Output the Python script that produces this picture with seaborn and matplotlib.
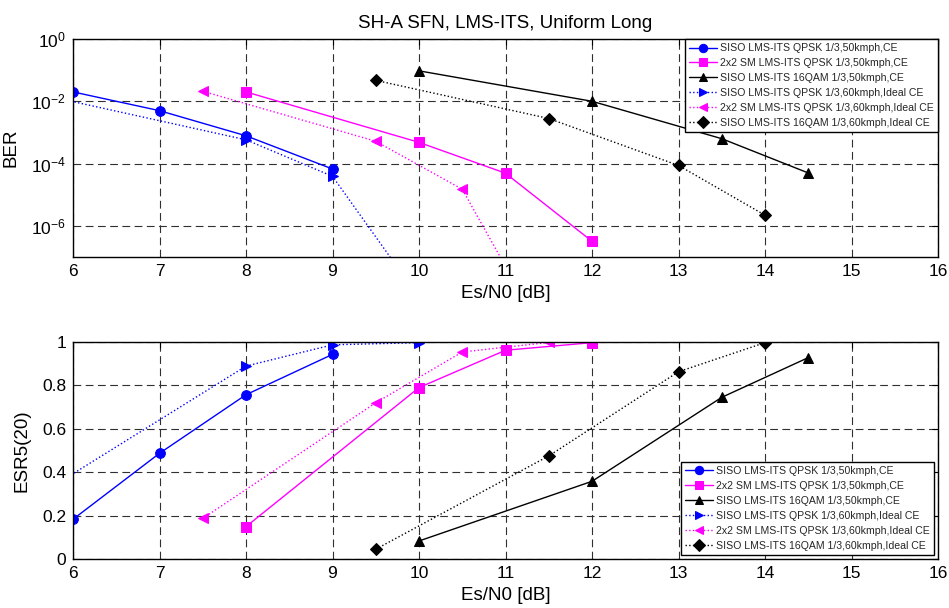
import numpy as np
import pandas as pd
import matplotlib
matplotlib.use("Agg")
import matplotlib.pyplot as plt
import seaborn as sns

# ---------------- data ----------------
labels = [
    "SISO LMS-ITS QPSK 1/3,50kmph,CE",
    "2x2 SM LMS-ITS QPSK 1/3,50kmph,CE",
    "SISO LMS-ITS 16QAM 1/3,50kmph,CE",
    "SISO LMS-ITS QPSK 1/3,60kmph,Ideal CE",
    "2x2 SM LMS-ITS QPSK 1/3,60kmph,Ideal CE",
    "SISO LMS-ITS 16QAM 1/3,60kmph,Ideal CE",
]

# BER (top)
ber_x_siso_ce = [6, 7, 8, 9]
ber_y_siso_ce = [2.0e-2, 5.0e-3, 7.8e-4, 6.7e-5]
ber_x_sm_ce = [8, 10, 11, 12]
ber_y_sm_ce = [2.0e-2, 4.8e-4, 4.9e-5, 3.2e-7]
ber_x_16_ce = [10, 12, 13.5, 14.5]
ber_y_16_ce = [9.5e-2, 1.0e-2, 6.3e-4, 5.0e-5]
ber_x_siso_id = [5, 8, 9, 10]
ber_y_siso_id = [4.0e-2, 5.8e-4, 3.9e-5, 5.0e-9]
ber_x_sm_id = [7.5, 9.5, 10.5, 11]
ber_y_sm_id = [2.1e-2, 5.2e-4, 1.5e-5, 5.0e-8]
ber_x_16_id = [9.5, 11.5, 13, 14]
ber_y_16_id = [4.7e-2, 2.8e-3, 8.7e-5, 2.2e-6]

# ESR5(20) (bottom)
esr_x_siso_ce = [6, 7, 8, 9]
esr_y_siso_ce = [0.183, 0.487, 0.757, 0.943]
esr_x_sm_ce = [8, 10, 11, 12]
esr_y_sm_ce = [0.149, 0.790, 0.962, 0.997]
esr_x_16_ce = [10, 12, 13.5, 14.5]
esr_y_16_ce = [0.083, 0.358, 0.745, 0.928]
esr_x_siso_id = [5, 8, 9, 10]
esr_y_siso_id = [0.145, 0.889, 0.987, 0.997]
esr_x_sm_id = [7.5, 9.5, 10.5, 11.5]
esr_y_sm_id = [0.187, 0.720, 0.954, 0.998]
esr_x_16_id = [9.5, 11.5, 13, 14]
esr_y_16_id = [0.045, 0.475, 0.863, 0.997]

x_ticks = [6, 7, 8, 9, 10, 11, 12, 13, 14, 15, 16]

# ---------------- style ----------------
sns.set_theme(style="white")
plt.rcParams["font.family"] = ["Liberation Sans", "DejaVu Sans"]

colors = ["#0000ff", "#ff00ff", "#000000", "#0000ff", "#ff00ff", "#000000"]
markers = ["o", "s", "^", ">", "<", "D"]
lstyles = ["-", "-", "-", ":", ":", ":"]
msizes = [7, 6.5, 7, 7, 7, 6]

ber_sets = [(ber_x_siso_ce, ber_y_siso_ce), (ber_x_sm_ce, ber_y_sm_ce),
            (ber_x_16_ce, ber_y_16_ce), (ber_x_siso_id, ber_y_siso_id),
            (ber_x_sm_id, ber_y_sm_id), (ber_x_16_id, ber_y_16_id)]
esr_sets = [(esr_x_siso_ce, esr_y_siso_ce), (esr_x_sm_ce, esr_y_sm_ce),
            (esr_x_16_ce, esr_y_16_ce), (esr_x_siso_id, esr_y_siso_id),
            (esr_x_sm_id, esr_y_sm_id), (esr_x_16_id, esr_y_16_id)]

fig = plt.figure(figsize=(9.49, 6.08), dpi=100)
fig.patch.set_facecolor("white")
ax1 = fig.add_axes([73/949, 1-257/608, (938-73)/949, (257-39)/608])
ax2 = fig.add_axes([73/949, 1-559/608, (938-73)/949, (559-342)/608])

def draw(ax, sets):
    for i, (xs, ys) in enumerate(sets):
        df = pd.DataFrame({"x": xs, "y": ys})
        sns.lineplot(data=df, x="x", y="y", ax=ax, color=colors[i],
                     marker=markers[i], linestyle=lstyles[i], linewidth=1.0,
                     markersize=msizes[i], markeredgecolor=colors[i],
                     label=labels[i], sort=False, clip_on=True)

draw(ax1, ber_sets)
draw(ax2, esr_sets)

ax1.set_yscale("log")
ax1.set_ylim(1e-7, 1)
ax1.set_yticks([1e0, 1e-2, 1e-4, 1e-6])
ax1.yaxis.set_minor_locator(matplotlib.ticker.NullLocator())
ax2.set_ylim(0, 1)
ax2.set_yticks([0, 0.2, 0.4, 0.6, 0.8, 1])
ax2.set_yticklabels(["0", "0.2", "0.4", "0.6", "0.8", "1"])

for ax in (ax1, ax2):
    ax.set_xlim(6, 16)
    ax.set_xticks(x_ticks)
    ax.set_xticklabels([str(t) for t in x_ticks])
    ax.grid(True, which="major", color="#303030", linestyle=(0, (7, 4)),
            linewidth=0.8)
    ax.set_axisbelow(True)
    for s in ax.spines.values():
        s.set_color("black")
        s.set_linewidth(1.0)
    ax.tick_params(direction="in", top=True, right=True, length=4,
                   width=0.8, color="black", labelsize=12.5, pad=5,
                   labelcolor="black")
    ax.set_xlabel("Es/N0 [dB]", fontsize=13.5, color="black", labelpad=4)

ax1.set_ylabel("BER", fontsize=13.5, color="black", labelpad=8)
ax2.set_ylabel("ESR5(20)", fontsize=13.5, color="black", labelpad=8)
ax1.set_title("SH-A SFN, LMS-ITS, Uniform Long", fontsize=13.5,
              color="black", pad=8)

leg_kw = dict(fontsize=7.6, frameon=True, fancybox=False, framealpha=1,
              edgecolor="black", handlelength=2.7, handletextpad=0.25,
              borderpad=0.4, labelspacing=0.47, borderaxespad=0)
l1 = ax1.legend(loc="upper right", bbox_to_anchor=(1.0, 1.0), **leg_kw)
l2 = ax2.legend(loc="lower right", bbox_to_anchor=(0.9954, 0.018), **leg_kw)
for l in (l1, l2):
    l.get_frame().set_linewidth(1.0)
    for h in l.legend_handles:
        h.set_markersize(6)

fig.savefig("out.png", dpi=100, facecolor="white")
